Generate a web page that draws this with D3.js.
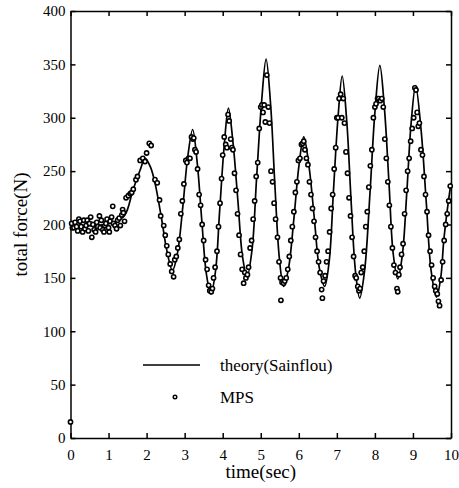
<!DOCTYPE html>
<html>
<head>
<meta charset="utf-8">
<script src="https://cdn.jsdelivr.net/npm/d3@7"></script>
<style>
  body { margin: 0; background: #fff; }
</style>
</head>
<body>
<div id="chart"></div>
<script>
// axis ticks
const xTicks = [0, 1, 2, 3, 4, 5, 6, 7, 8, 9, 10];
const yTicks = [0, 50, 100, 150, 200, 250, 300, 350, 400];

// theory(Sainflou) curve, [time, force]
const theory = [
  [0, 200], [0.3, 199], [0.6, 199], [0.9, 200], [1.2, 203], [1.43, 209], [1.64, 232], [1.83, 251], [1.96, 262],
  [2.1, 254], [2.22, 239], [2.4, 204], [2.53, 176], [2.68, 157],
  [2.81, 173], [2.95, 216], [3.08, 263], [3.21, 289],
  [3.33, 258], [3.45, 204], [3.57, 154], [3.69, 135],
  [3.81, 156], [3.92, 213], [4.04, 274], [4.15, 309],
  [4.27, 277], [4.40, 222], [4.52, 170], [4.64, 151],
  [4.77, 176], [4.89, 243], [5.02, 314], [5.14, 355],
  [5.26, 312], [5.37, 238], [5.49, 168], [5.60, 142],
  [5.73, 159], [5.87, 205], [6.00, 254], [6.13, 282],
  [6.27, 254], [6.41, 205], [6.54, 159], [6.68, 142],
  [6.80, 166], [6.91, 231], [7.03, 300], [7.14, 339],
  [7.26, 297], [7.37, 225], [7.49, 156], [7.60, 131],
  [7.73, 157], [7.87, 229], [8.00, 305], [8.13, 349],
  [8.25, 309], [8.37, 239], [8.48, 173], [8.60, 149],
  [8.72, 171], [8.84, 231], [8.95, 294], [9.07, 330],
  [9.21, 290], [9.35, 221], [9.48, 156], [9.62, 132],
  [9.73, 150], [9.81, 185], [9.9, 213], [10, 239]
];

// MPS results, [time, force]
const mps = [
  [0, 15],
  [0.03, 201], [0.05, 197], [0.09, 197], [0.12, 202], [0.16, 198], [0.19, 194], [0.22, 205], [0.25, 203],
  [0.28, 198], [0.32, 193], [0.35, 204], [0.38, 196], [0.41, 199], [0.44, 204], [0.47, 194], [0.50, 201],
  [0.53, 207], [0.56, 188], [0.59, 200], [0.62, 195], [0.66, 193], [0.69, 202], [0.72, 198], [0.76, 208],
  [0.78, 197], [0.81, 204], [0.85, 195], [0.88, 193], [0.90, 199], [0.93, 201], [0.96, 205], [1.0, 197],
  [1.02, 193], [1.04, 203], [1.08, 207], [1.11, 217], [1.13, 201], [1.17, 199], [1.21, 196], [1.24, 204],
  [1.28, 206], [1.31, 199], [1.35, 209], [1.37, 214], [1.39, 211], [1.42, 203], [1.46, 225], [1.52, 227],
  [1.57, 229], [1.61, 230], [1.65, 233], [1.72, 242], [1.76, 245], [1.83, 260], [1.90, 262], [1.96, 259],
  [2.00, 267], [2.07, 276], [2.12, 274], [2.22, 242], [2.28, 239], [2.34, 223], [2.37, 208],
  [2.45, 199], [2.49, 190], [2.53, 180], [2.57, 172], [2.62, 163], [2.66, 156], [2.71, 151], [2.74, 167],
  [2.78, 170], [2.82, 178], [2.86, 186], [2.90, 210], [2.94, 222], [2.98, 238], [3.03, 260], [3.06, 258],
  [3.10, 262], [3.14, 262], [3.18, 282], [3.22, 280], [3.24, 281], [3.27, 270], [3.30, 268], [3.34, 252],
  [3.38, 228], [3.42, 218], [3.46, 200], [3.50, 185], [3.55, 167], [3.59, 158], [3.63, 143], [3.66, 138],
  [3.70, 137], [3.73, 140],
  [3.76, 150], [3.80, 160], [3.85, 175], [3.89, 198], [3.93, 220], [3.97, 243], [4.00, 265], [4.04, 282],
  [4.08, 275], [4.11, 272], [4.14, 303], [4.17, 297], [4.21, 280], [4.24, 272], [4.27, 270], [4.31, 248],
  [4.35, 232], [4.39, 210], [4.43, 190], [4.47, 172], [4.51, 158], [4.55, 145], [4.58, 155], [4.61, 150],
  [4.65, 153], [4.68, 160],
  [4.72, 178], [4.76, 185], [4.80, 205], [4.84, 222], [4.88, 245], [4.92, 258], [4.96, 290], [5.00, 310],
  [5.03, 312], [5.06, 305], [5.09, 312], [5.12, 296], [5.16, 340], [5.20, 310], [5.23, 295], [5.27, 250],
  [5.31, 240], [5.35, 220], [5.39, 205], [5.44, 188], [5.48, 165], [5.52, 150], [5.53, 129], [5.56, 146],
  [5.60, 145], [5.63, 147],
  [5.67, 150], [5.71, 158], [5.75, 170], [5.79, 185], [5.83, 198], [5.87, 212], [5.91, 230], [5.95, 240],
  [5.99, 260], [6.03, 262], [6.07, 275], [6.10, 276], [6.13, 278], [6.16, 270], [6.20, 262], [6.24, 256],
  [6.28, 240], [6.32, 228], [6.36, 215], [6.40, 203], [6.44, 188], [6.48, 175], [6.52, 165], [6.56, 155],
  [6.60, 139], [6.62, 131], [6.65, 147], [6.69, 152],
  [6.73, 165], [6.77, 175], [6.81, 193], [6.85, 215], [6.89, 228], [6.93, 252], [6.97, 272], [7.00, 300],
  [7.03, 300], [7.06, 318], [7.10, 322], [7.13, 300], [7.17, 318], [7.20, 295], [7.24, 268], [7.28, 248],
  [7.32, 225], [7.36, 208], [7.40, 188], [7.44, 170], [7.48, 152], [7.51, 150], [7.55, 142], [7.58, 138],
  [7.61, 140], [7.64, 155],
  [7.68, 160], [7.72, 175], [7.76, 198], [7.80, 212], [7.84, 235], [7.88, 255], [7.92, 270], [7.96, 300],
  [8.00, 310], [8.03, 313], [8.07, 318], [8.10, 318], [8.14, 316], [8.18, 318], [8.22, 310], [8.26, 280],
  [8.30, 262], [8.34, 240], [8.38, 218], [8.42, 198], [8.46, 178], [8.50, 162], [8.54, 155], [8.58, 140],
  [8.60, 137], [8.63, 153], [8.66, 160],
  [8.70, 172], [8.74, 182], [8.78, 210], [8.82, 232], [8.86, 250], [8.90, 262], [8.94, 278], [8.98, 290],
  [9.02, 300], [9.05, 328], [9.08, 326], [9.11, 305], [9.14, 292], [9.17, 295], [9.21, 270], [9.25, 265],
  [9.29, 245], [9.33, 228], [9.37, 212], [9.41, 190], [9.45, 175], [9.49, 162], [9.53, 150], [9.57, 142],
  [9.60, 138], [9.64, 135], [9.67, 128], [9.70, 124], [9.74, 148], [9.78, 165], [9.82, 185], [9.86, 200],
  [9.90, 210], [9.94, 222], [9.98, 236]
];

const serif = "'Liberation Serif', 'Times New Roman', serif";
const width = 459, height = 488;
const margin = {top: 11, right: 8, bottom: 50, left: 70.5};

var svg = d3.select("#chart").append("svg")
  .attr("width", width)
  .attr("height", height);

var x = d3.scaleLinear().domain([0, 10]).range([margin.left, width - margin.right]);
var y = d3.scaleLinear().domain([0, 400]).range([height - margin.bottom, margin.top]);

//inward ticks on all four sides
svg.append("g")
  .attr("transform", "translate(0," + y(0) + ")")
  .call(d3.axisBottom(x).tickValues(xTicks).tickSizeInner(-5).tickSizeOuter(0).tickPadding(8))
  .call(g => g.selectAll("text").attr("dy", "0.9em"));
svg.append("g")
  .attr("transform", "translate(" + x(0) + ",0)")
  .call(d3.axisLeft(y).tickValues(yTicks).tickSizeInner(-5).tickSizeOuter(0).tickPadding(5));
svg.append("g")
  .attr("transform", "translate(0," + y(400) + ")")
  .call(d3.axisTop(x).tickValues(xTicks).tickSizeInner(-5).tickSizeOuter(0).tickFormat(""));
svg.append("g")
  .attr("transform", "translate(" + x(10) + ",0)")
  .call(d3.axisRight(y).tickValues(yTicks).tickSizeInner(-5).tickSizeOuter(0).tickFormat(""));
svg.selectAll(".domain, .tick line").attr("stroke", "#000").attr("stroke-width", 1.5);
svg.selectAll(".tick text")
  .style("font-family", serif)
  .style("font-size", "15px")
  .attr("fill", "#000");

//theory curve
var line = d3.line()
  .x(d => x(d[0]))
  .y(d => y(d[1]))
  .curve(d3.curveCatmullRom.alpha(0.5));

svg.append("path")
  .datum(theory)
  .attr("fill", "none")
  .attr("stroke", "#000")
  .attr("stroke-width", 1.7)
  .attr("d", line);

//MPS points
svg.selectAll(".mps").data(mps).enter().append("circle")
  .attr("class", "mps")
  .attr("cx", d => x(d[0]))
  .attr("cy", d => y(d[1]))
  .attr("r", 2.1)
  .attr("fill", "#fff")
  .attr("stroke", "#000")
  .attr("stroke-width", 1.6);

//legend
var leg = svg.append("g").style("font-family", serif).style("font-size", "17px");
leg.append("line")
  .attr("x1", 143).attr("x2", 200)
  .attr("y1", 365).attr("y2", 365)
  .attr("stroke", "#000").attr("stroke-width", 1.3);
leg.append("text").attr("x", 220).attr("y", 371).text("theory(Sainflou)");
leg.append("circle")
  .attr("cx", 175).attr("cy", 397).attr("r", 1.8)
  .attr("fill", "#fff").attr("stroke", "#000").attr("stroke-width", 1.4);
leg.append("text").attr("x", 220).attr("y", 403).text("MPS");

//axis titles
svg.append("text")
  .attr("x", x(5)).attr("y", 478)
  .attr("text-anchor", "middle")
  .style("font-family", serif)
  .style("font-size", "19px")
  .text("time(sec)");
svg.append("text")
  .attr("transform", "translate(27," + y(200) + ") rotate(-90)")
  .attr("text-anchor", "middle")
  .style("font-family", serif)
  .style("font-size", "19px")
  .text("total force(N)");
</script>
</body>
</html>
